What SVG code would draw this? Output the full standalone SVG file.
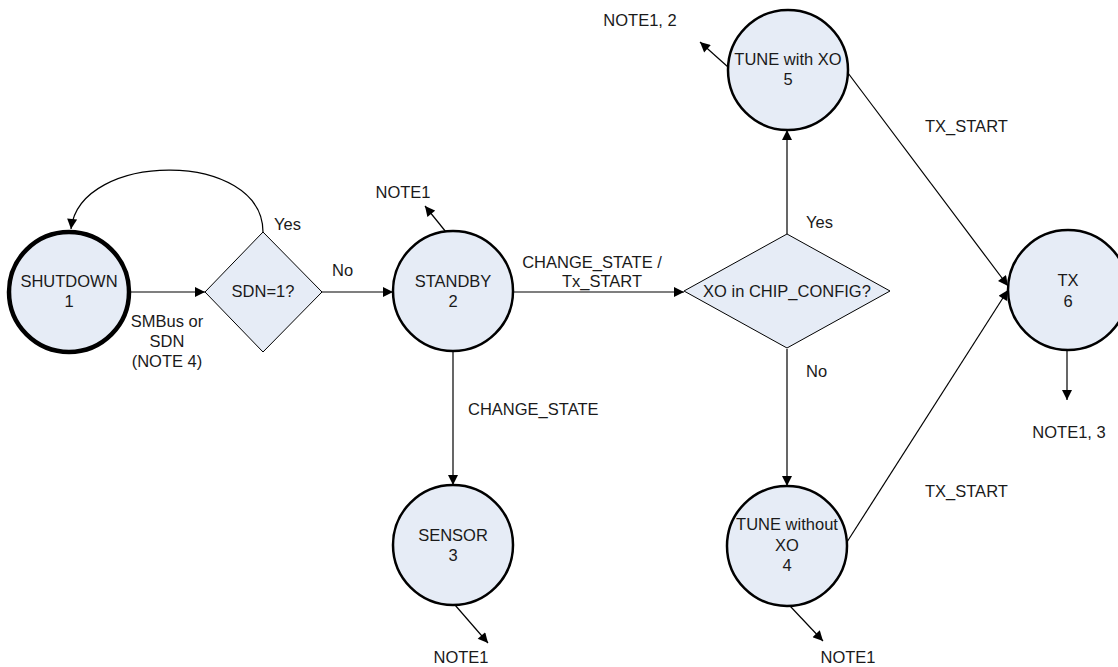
<svg xmlns="http://www.w3.org/2000/svg" width="1118" height="667" viewBox="0 0 1118 667">
<defs>
<marker id="ah" viewBox="0 0 10 10" refX="10" refY="5" markerWidth="11" markerHeight="10" markerUnits="userSpaceOnUse" orient="auto"><path d="M0,0 L10,5 L0,10 z" fill="#000"/></marker>
</defs>
<style>
text{font-family:"Liberation Sans",Arial,sans-serif;font-size:16.5px;fill:#1a1a1a}
.c{text-anchor:middle}
.st{fill:#e6ecf6;stroke:#000;stroke-width:2.5}
.dm{fill:#e6ecf6;stroke:#000;stroke-width:1}
.ln{fill:none;stroke:#000;stroke-width:1.2;marker-end:url(#ah)}
.pl{fill:none;stroke:#000;stroke-width:1.2}
</style>
<rect width="1118" height="667" fill="#fff"/>
<g id="connectors">
<line class="ln" x1="130" y1="292" x2="205" y2="292"/>
<path class="ln" d="M263,232 C263,150 80,150 71,229"/>
<line class="ln" x1="322" y1="292" x2="393" y2="292"/>
<line class="ln" x1="446" y1="232" x2="425" y2="206"/>
<line class="ln" x1="513" y1="292" x2="684" y2="292"/>
<line class="ln" x1="453" y1="351" x2="453" y2="485"/>
<line class="ln" x1="455" y1="605" x2="488" y2="643"/>
<line class="ln" x1="787" y1="234" x2="787" y2="130"/>
<line class="ln" x1="728" y1="67" x2="700" y2="42"/>
<line class="pl" x1="787" y1="349" x2="787" y2="400"/>
<line class="ln" x1="787" y1="400" x2="787" y2="486"/>
<line class="ln" x1="790" y1="606" x2="823" y2="641"/>
<line class="ln" x1="848" y1="73" x2="1008" y2="286"/>
<line class="ln" x1="847" y1="542" x2="1008" y2="290"/>
<line class="ln" x1="1067" y1="350" x2="1067" y2="400"/>
<text x="274" y="230">Yes</text>
<text x="332" y="276">No</text>
<text class="c" x="167" y="327">SMBus or</text>
<text class="c" x="167" y="347">SDN</text>
<text class="c" x="167" y="367">(NOTE 4)</text>
<text class="c" x="403" y="198">NOTE1</text>
<text class="c" x="592" y="268">CHANGE_STATE /</text>
<text class="c" x="602" y="287">Tx_START</text>
<text x="468" y="415">CHANGE_STATE</text>
<text class="c" x="461" y="663">NOTE1</text>
<text x="806" y="228">Yes</text>
<text x="806" y="377">No</text>
<text class="c" x="640" y="26">NOTE1, 2</text>
<text class="c" x="848" y="663">NOTE1</text>
<text x="925" y="132">TX_START</text>
<text x="925" y="497">TX_START</text>
<text class="c" x="1069" y="438">NOTE1, 3</text>
</g>
<g id="shutdown">
<circle class="st" cx="69" cy="292" r="60" style="stroke-width:4.5"/>
<text class="c" x="69" y="287">SHUTDOWN</text>
<text class="c" x="69" y="307">1</text>
</g>
<g id="sdn">
<polygon class="dm" points="263,232 322,292 263,352 205,292"/>
<text class="c" x="263" y="297">SDN=1?</text>
</g>
<g id="standby">
<circle class="st" cx="453" cy="291" r="60"/>
<text class="c" x="453" y="287">STANDBY</text>
<text class="c" x="453" y="307">2</text>
</g>
<g id="sensor">
<circle class="st" cx="453" cy="545" r="60"/>
<text class="c" x="453" y="541">SENSOR</text>
<text class="c" x="453" y="561">3</text>
</g>
<g id="xo">
<polygon class="dm" points="787,234 890,291 787,348 684,291"/>
<text class="c" x="787" y="297">XO in CHIP_CONFIG?</text>
</g>
<g id="tune5">
<circle class="st" cx="788" cy="70" r="60"/>
<text class="c" x="788" y="65">TUNE with XO</text>
<text class="c" x="788" y="85">5</text>
</g>
<g id="tune4">
<circle class="st" cx="787" cy="546" r="60"/>
<text class="c" x="787" y="530">TUNE without</text>
<text class="c" x="787" y="551">XO</text>
<text class="c" x="787" y="571">4</text>
</g>
<g id="tx">
<circle class="st" cx="1068" cy="290" r="60"/>
<text class="c" x="1068" y="286">TX</text>
<text class="c" x="1068" y="307">6</text>
</g>
</svg>
